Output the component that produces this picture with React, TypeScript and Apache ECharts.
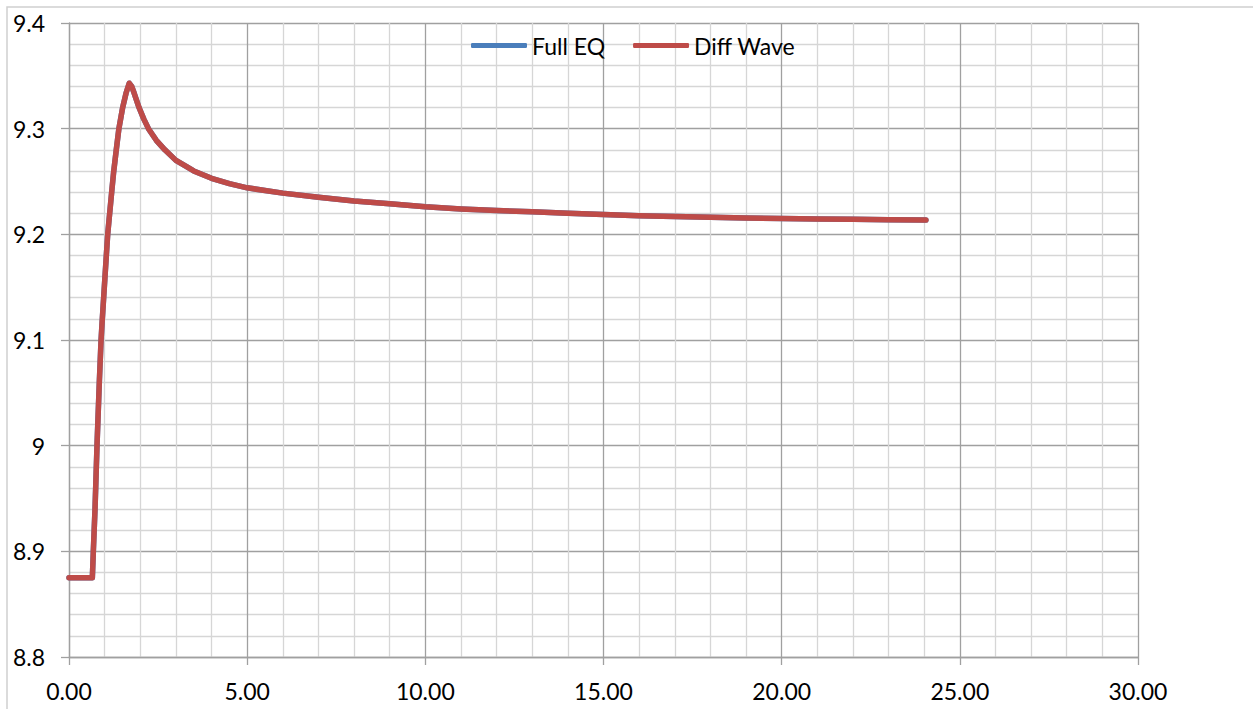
import React, { useEffect, useRef } from "react";
import * as echarts from "echarts";

const xValues = [
  0, 0.655, 0.683, 0.73, 0.786, 0.851, 0.9, 0.935, 1.01, 1.086, 1.198, 1.25, 1.32, 1.4, 1.506, 1.6,
  1.69, 1.76, 1.83, 1.965, 2.1, 2.23, 2.45, 2.69, 3.0, 3.3, 3.5, 4.0, 4.5, 5, 6, 7, 8, 9, 10, 11, 12,
  13, 14, 15, 16, 17, 18, 19, 20, 21, 22, 23, 24, 24.05,
];
const fullEq = [
  8.875, 8.875, 8.9, 8.94, 9.0, 9.06, 9.1, 9.12, 9.16, 9.2, 9.24, 9.258, 9.278, 9.3, 9.32, 9.3335,
  9.343, 9.34, 9.3335, 9.32, 9.309, 9.3, 9.289, 9.28, 9.27, 9.264, 9.26, 9.253, 9.248, 9.244, 9.239,
  9.235, 9.2315, 9.229, 9.226, 9.224, 9.2226, 9.2213, 9.22, 9.2187, 9.2177, 9.2168, 9.2161, 9.2155,
  9.215, 9.2146, 9.2142, 9.2139, 9.2136, 9.2135,
];
const diffWave = [
  8.875, 8.875, 8.9, 8.94, 9.0, 9.06, 9.1, 9.12, 9.16, 9.2, 9.24, 9.258, 9.278, 9.3, 9.32, 9.3335,
  9.343, 9.34, 9.3335, 9.32, 9.309, 9.3, 9.289, 9.28, 9.27, 9.264, 9.26, 9.253, 9.248, 9.244, 9.239,
  9.235, 9.2315, 9.229, 9.226, 9.224, 9.2226, 9.2213, 9.22, 9.2187, 9.2177, 9.2168, 9.2161, 9.2155,
  9.215, 9.2146, 9.2142, 9.2139, 9.2136, 9.2135,
];
const seriesNames = ["Full EQ", "Diff Wave"];

const FONT = "Lato";
const MAJOR = "#a0a0a0";
const MINOR = "#d6d6d6";

export default function App() {
  const ref = useRef<HTMLDivElement>(null);
  useEffect(() => {
    document.body.style.margin = "0";
    const chart = echarts.init(ref.current!, null, { renderer: "svg" });
    const pair = (ys: number[]) => xValues.map((x, i) => [x, ys[i]]);
    chart.setOption({
      animation: false,
      textStyle: { fontFamily: FONT },
      graphic: [
        {
          type: "rect",
          shape: { x: 7, y: 7, width: 1300, height: 800 },
          style: { fill: "none", stroke: "#d0d0d0", lineWidth: 1.5 },
          silent: true,
        },
      ],
      grid: { left: 69, top: 23, right: 115, bottom: 52 },
      legend: {
        left: 466,
        top: 29,
        itemWidth: 56,
        itemHeight: 5,
        itemGap: 28,
        itemTextGap: 5,
        icon: "roundRect",
        textStyle: { fontFamily: FONT, fontSize: 23, color: "#000" },
        data: seriesNames,
      },
      xAxis: {
        type: "value",
        min: 0,
        max: 30,
        interval: 5,
        axisLine: { show: true, lineStyle: { color: MAJOR, width: 1.3 } },
        axisTick: { show: true, length: 8, lineStyle: { color: MAJOR, width: 1.3 } },
        axisLabel: {
          fontFamily: FONT,
          fontSize: 23,
          color: "#000",
          margin: 22,
          formatter: (v: number) => v.toFixed(2),
        },
        splitLine: { show: true, lineStyle: { color: MAJOR, width: 1.3 } },
        minorTick: { show: false, splitNumber: 5 },
        minorSplitLine: { show: true, lineStyle: { color: MINOR, width: 1.3 } },
      },
      yAxis: {
        type: "value",
        min: 8.8,
        max: 9.4,
        interval: 0.1,
        axisLine: { show: true, lineStyle: { color: MAJOR, width: 1.3 } },
        axisTick: { show: true, length: 8, lineStyle: { color: MAJOR, width: 1.3 } },
        axisLabel: {
          fontFamily: FONT,
          fontSize: 23,
          color: "#000",
          margin: 24,
        },
        splitLine: { show: true, lineStyle: { color: MAJOR, width: 1.3 } },
        minorTick: { show: false, splitNumber: 5 },
        minorSplitLine: { show: true, lineStyle: { color: MINOR, width: 1.3 } },
      },
      series: [
        {
          name: seriesNames[0],
          type: "line",
          data: pair(fullEq),
          smooth: false,
          symbol: "none",
          color: "#4a7ebb",
          lineStyle: { width: 5.5, color: "#4a7ebb", cap: "round", join: "round" },
        },
        {
          name: seriesNames[1],
          type: "line",
          data: pair(diffWave),
          smooth: false,
          symbol: "none",
          color: "#be4b48",
          lineStyle: { width: 5.5, color: "#be4b48", cap: "round", join: "round" },
        },
      ],
    });
    return () => chart.dispose();
  }, []);
  return <div ref={ref} style={{ width: 1253, height: 709 }} />;
}
